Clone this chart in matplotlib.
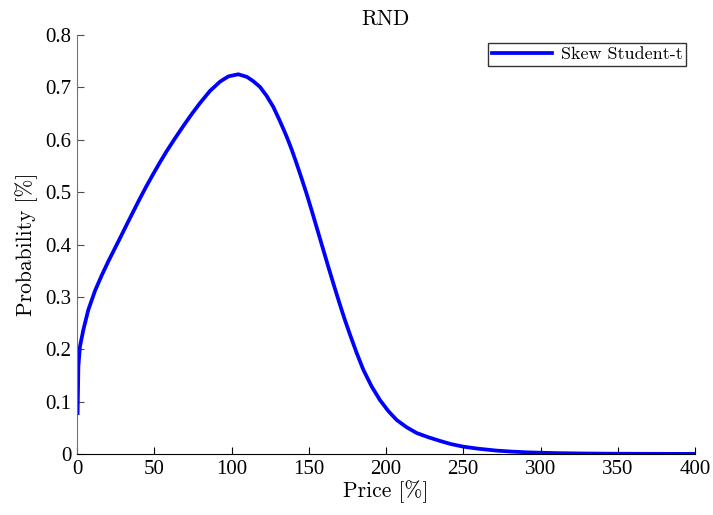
import matplotlib
matplotlib.use("Agg")
import matplotlib.pyplot as plt

plt.rcParams["font.family"] = ["Liberation Serif", "DejaVu Serif"]

price = [0.4, 0.9, 1.9, 4.1, 7.3, 11.7, 16.0, 20.3, 26.8, 33.2, 39.7, 44.5, 49.4,
         53.7, 58.0, 63.5, 69.0, 74.5, 79.6, 86.0, 92.6, 98.0, 104.4, 110.0, 114.0,
         118.4, 122.7, 127.0, 131.3, 135.7, 139.0, 142.2, 145.5, 148.7, 151.9,
         155.1, 158.9, 162.7, 166.5, 170.2, 173.5, 176.7, 181.0, 185.3, 190.7,
         196.1, 201.5, 206.9, 213.4, 219.9, 227.4, 234.9, 242.0, 250.0, 260.0,
         271.6, 282.0, 293.0, 310.0, 330.0, 350.0, 375.0, 400.0]
prob = [0.078, 0.167, 0.205, 0.237, 0.275, 0.312, 0.341, 0.368, 0.406, 0.444,
        0.482, 0.509, 0.535, 0.557, 0.578, 0.603, 0.627, 0.650, 0.670, 0.693,
        0.711, 0.721, 0.725, 0.720, 0.712, 0.701, 0.684, 0.663, 0.636, 0.606,
        0.581, 0.554, 0.525, 0.496, 0.465, 0.433, 0.395, 0.357, 0.320, 0.285,
        0.255, 0.228, 0.193, 0.161, 0.129, 0.103, 0.082, 0.065, 0.051, 0.040,
        0.032, 0.025, 0.019, 0.014, 0.010, 0.0065, 0.0045, 0.003, 0.0017,
        0.0009, 0.0005, 0.0003, 0.0002]

xticks = [0, 50, 100, 150, 200, 250, 300, 350, 400]
yticks = [0, 0.1, 0.2, 0.3, 0.4, 0.5, 0.6, 0.7, 0.8]
yticklabels = ["0", "0.1", "0.2", "0.3", "0.4", "0.5", "0.6", "0.7", "0.8"]

fig = plt.figure(figsize=(7.13, 5.15), dpi=100)
ax = fig.add_axes([77/713, 61/515, 618/713, 419/515])

ax.plot(price, prob, color="#0000ff", lw=2.7, label="Skew Student-t",
        solid_joinstyle="round")

ax.set_xlim(0, 400)
ax.set_ylim(0, 0.8)
ax.set_xticks(xticks)
ax.set_yticks(yticks)
ax.set_yticklabels(yticklabels)
ax.tick_params(direction="in", length=5, width=0.8, labelsize=15, pad=4)

ax.spines["top"].set_visible(False)
ax.spines["right"].set_visible(False)
ax.spines["left"].set_color("0.45")
ax.spines["bottom"].set_color("black")
ax.tick_params(axis="y", colors="0.3", labelcolor="black")

cm = {"family": "cmr10", "size": 15.5}
ax.set_title("RND", fontdict=cm, pad=7)
ax.set_xlabel("Price [%]", fontdict=cm, labelpad=1)
ax.set_ylabel("Probability [%]", fontdict=cm, labelpad=5)

leg = ax.legend(loc="upper right", bbox_to_anchor=(686/713, 472/515), bbox_transform=fig.transFigure,
                prop={"family": "cmr10", "size": 13}, fancybox=False, frameon=True,
                handlelength=3.3, handletextpad=0.5, borderpad=0.2, borderaxespad=0)
leg.get_frame().set_edgecolor("black")
leg.get_frame().set_linewidth(1.0)

fig.savefig("out.png", dpi=100)
